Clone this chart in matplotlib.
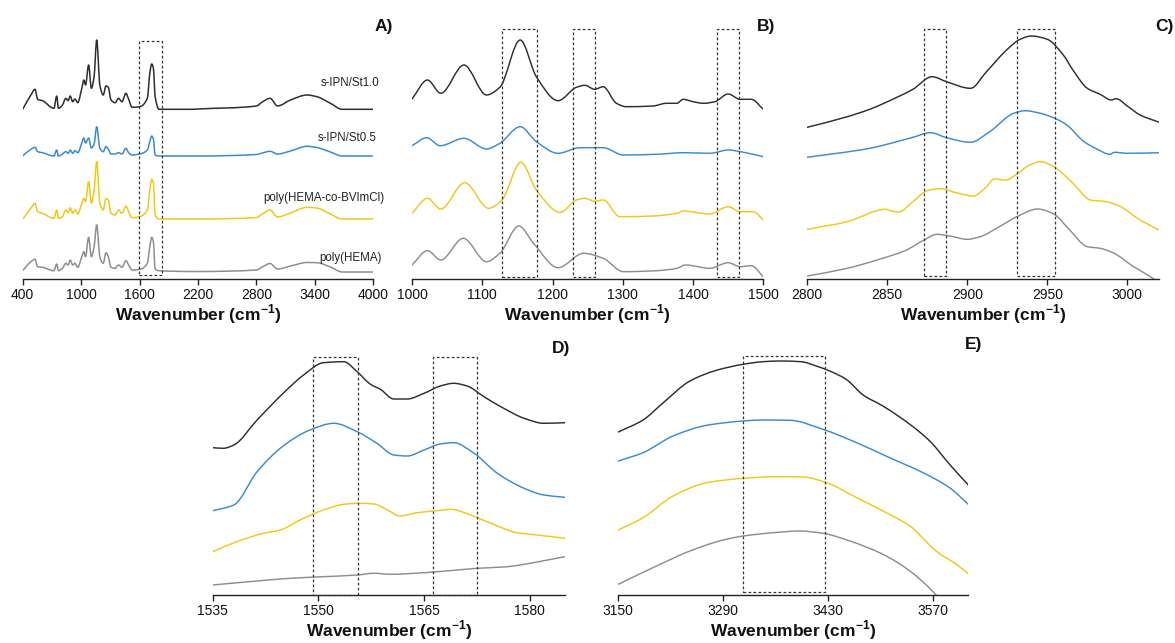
import matplotlib
matplotlib.use('Agg')
import numpy as np
import matplotlib.pyplot as plt
from matplotlib.patches import Rectangle, PathPatch
from matplotlib.path import Path

plt.rcParams['font.family'] = ['Liberation Sans', 'DejaVu Sans']
plt.rcParams['mathtext.fontset'] = 'custom'
plt.rcParams['mathtext.rm'] = 'Liberation Sans'
plt.rcParams['mathtext.bf'] = 'Liberation Sans:bold'

# ---------------- data (offset absorbance, a.u.) ----------------
series_names = ['s-IPN/St1.0', 's-IPN/St0.5', 'poly(HEMA-co-BVImCl)', 'poly(HEMA)']
colors = ['#2e2e2e', '#3a8ccb', '#f0c81a', '#8e8e8e']

# Panel A: full spectra 400-4000 cm-1
wn_A = [400, 484, 526, 554, 603, 721, 749, 767, 808, 843, 867, 888, 913, 937, 965,
        1007, 1028, 1045, 1077, 1105, 1133, 1160, 1192, 1227, 1255, 1279, 1307, 1349,
        1384, 1419, 1460, 1488, 1523, 1600, 1680, 1705, 1725, 1742, 1760, 1800,
        2150, 2200, 2800, 2860, 2940, 3016, 3150, 3320, 3420, 3560, 3680, 4000]
A_st10 = [166.7, 181, 186.7, 176.7, 175.3, 167.7, 180, 167.7, 171, 177.7, 175.3, 180, 174.3, 177, 173.3,
          187.7, 196, 191, 211, 187.7, 199.3, 236, 191, 181, 190, 188.7, 176, 173.3,
          177.7, 174.3, 182.7, 176.7, 168.7, 169.3, 177.7, 202.7, 212, 207.7, 179.3, 166.7,
          166.7, 167, 170, 174, 177.7, 170, 176, 181, 179.3, 172.7, 166.7, 166.7]
A_st05 = [120, 126.7, 128.7, 124.3, 123.3, 120, 126, 120, 122, 124.3, 122.7, 126, 122.7, 125.3, 123.3,
          133, 138, 133, 138, 128, 132, 149.3, 127.7, 124.3, 129.3, 126.7, 122, 122,
          123.3, 122, 127.7, 123.3, 121, 122, 126, 134.3, 140, 136.7, 121, 120,
          120, 120, 121.5, 123, 124.7, 122, 125, 129.7, 128.5, 124, 120, 120]
A_copo = [56.7, 67.7, 72.7, 64.3, 62.7, 57.7, 66, 57.7, 59.3, 66, 63.3, 68.3, 62.7, 66, 62,
          72.7, 77.7, 74.3, 94.3, 72.7, 86, 114.3, 72.7, 66, 77.7, 76, 62.7, 61,
          66, 62.7, 70, 64.3, 58.3, 59.3, 66, 86, 96.7, 92.7, 61, 57,
          57, 57, 58.5, 62, 66, 59, 63, 68.7, 68, 62, 57, 57]
A_hema = [5.3, 14.3, 16.7, 9.3, 8.7, 5.3, 12, 5.3, 7.7, 12.7, 11, 16, 11, 12.7, 8.7,
          19.3, 24.3, 19.3, 38.7, 19.3, 29.3, 51, 19.3, 12.7, 23.3, 19.3, 8.7, 7.7,
          11, 8.7, 15.3, 11, 6, 6.7, 12.7, 29.3, 38.7, 34.3, 6.7, 5.3,
          4.5, 4.5, 6, 9, 12.5, 7, 10, 13.5, 13.3, 9, 4, 4]

# Panel B: 1000-1500 cm-1
B_wn_st10 = [1000, 1022, 1041, 1074, 1106, 1125, 1154, 1177, 1208, 1234, 1246, 1260, 1272,
             1291, 1305, 1343, 1362, 1377, 1386, 1400, 1415, 1431, 1450, 1467, 1483, 1500]
B_st10 = [180, 199, 185.7, 214, 184, 191.7, 239, 202.3, 178.3, 191.7, 193.7, 189.7, 192.3,
          175.7, 172.3, 173, 175.7, 175.7, 179.7, 177.3, 175.7, 177.3, 185, 179.7, 179.7, 169.7]
B_wn_st05 = [1000, 1021, 1040, 1074, 1106, 1125, 1154, 1177, 1208, 1239, 1272, 1301, 1348,
             1386, 1424, 1450, 1472, 1500]
B_st05 = [133.3, 141.3, 133.3, 140.7, 130, 135.7, 152.3, 137.3, 125.7, 131.3, 131.3, 124, 124.7,
          126.3, 125.7, 129, 126.7, 122.3]
B_wn_copo = [1000, 1022, 1041, 1075, 1109, 1128, 1155, 1177, 1211, 1234, 1246, 1260, 1272,
             1296, 1343, 1377, 1386, 1424, 1450, 1467, 1486, 1500]
B_copo = [65.7, 80.7, 70, 96.3, 70.7, 79, 116.7, 89, 66.7, 79, 80.7, 77.7, 79,
          62.3, 63, 65.7, 68, 65, 72.3, 67.3, 67.3, 59]
B_wn_hema = [1000, 1022, 1041, 1073, 1106, 1125, 1152, 1173, 1208, 1244, 1272, 1301, 1348,
             1377, 1389, 1424, 1450, 1467, 1483, 1500]
B_hema = [14, 28.3, 19, 40.7, 17.3, 25.7, 53, 35.7, 11.3, 25.7, 20.7, 7.3, 8.3,
          10.7, 14, 10.7, 16.3, 12.3, 13.3, 2.3]

# Panel C: 2800-3020 cm-1
C_wn_st10 = [2800, 2825, 2839, 2856, 2866, 2878, 2887, 2902, 2912, 2925, 2933, 2940, 2950,
             2960, 2966, 2975, 2983, 2990, 2993, 3000, 3008, 3020]
C_st10 = [151.7, 162.3, 169.7, 181.7, 189.7, 202.3, 197.3, 190.7, 207.3, 229.7, 239.7, 243, 239.7,
          224, 209, 190.7, 184.7, 179, 180.3, 173, 164, 156.7]
C_wn_st05 = [2800, 2839, 2856, 2866, 2877, 2887, 2902, 2914, 2929, 2936, 2945, 2956, 2962,
             2973, 2981, 2989, 2992, 3000, 3020]
C_st05 = [121.7, 130.7, 137.3, 141.7, 146.3, 141.3, 136.7, 147.3, 165.7, 168.3, 166, 159.7, 154.3,
          137.3, 130, 124.7, 126.7, 125.7, 126.3]
C_wn_copo = [2800, 2825, 2849, 2852, 2857, 2866, 2875, 2883, 2893, 2904, 2911, 2917, 2924,
             2931, 2939, 2946, 2954, 2966, 2977, 2987, 2995, 3008, 3020]
C_copo = [49.7, 57.3, 69.7, 68.3, 67, 77.3, 88.3, 90.3, 86.3, 83, 90.7, 100, 99,
          105, 114, 117.3, 112.3, 95.7, 79, 77.3, 73, 59, 49]
C_wn_hema = [2800, 2825, 2845, 2861, 2873, 2881, 2889, 2900, 2908, 2920, 2931, 2944, 2954,
             2964, 2975, 2983, 2991, 3004, 3015, 3020]
C_hema = [3, 10.7, 19.7, 28.3, 39, 44.7, 43, 39.7, 42.3, 52.3, 62.3, 70, 65,
          49, 32.3, 30.7, 26.3, 12.3, 1.7, -4]

# Panel D: 1535-1585 cm-1
D_wn_st10 = [1535, 1536.5, 1538, 1541.3, 1545, 1547.9, 1550.7, 1553.6, 1555.5, 1557.4, 1558.8,
             1560.7, 1562.6, 1565, 1567.3, 1569.2, 1571.1, 1573.5, 1576.3, 1579.2, 1582, 1585]
D_st10 = [147.3, 146.7, 150, 175, 201.7, 220, 232.3, 233.3, 223.3, 210.7, 205.7,
          196, 196, 201.7, 209, 211.7, 209, 198.3, 186.7, 176.7, 171.7, 172.3]
D_wn_st05 = [1535, 1538, 1541.3, 1545, 1548.8, 1552.2, 1555.5, 1558.3, 1560.7, 1562.6, 1565,
             1567.3, 1569.2, 1572.1, 1575.4, 1579.2, 1582, 1585]
D_st05 = [84.3, 90, 123.3, 149, 165, 171.7, 163.3, 151.7, 140, 139, 145,
          151, 152.3, 141.7, 121.7, 106.7, 100, 97.7]
D_wn_copo = [1535, 1538.4, 1542.2, 1544.6, 1547.4, 1550.7, 1553.6, 1555.5, 1557.9, 1559.8, 1561.6,
             1564, 1566.9, 1568.8, 1571.6, 1574.5, 1578.2, 1581.1, 1585]
D_copo = [43.3, 53.3, 61.7, 65, 75, 85, 90.7, 91.7, 91, 85, 79,
          82.3, 84.3, 85.7, 80, 71.7, 62.3, 60, 56.7]
D_wn_hema = [1535, 1541.3, 1546, 1550.7, 1555.5, 1557.9, 1560.2, 1565, 1569.7, 1572.6, 1576.8,
             1579.2, 1582, 1585]
D_hema = [10, 14, 16.7, 18.3, 20, 21.7, 20.7, 22.3, 25, 26.7, 28.3,
          30.7, 34.3, 38.3]

# Panel E: 3150-3617 cm-1
E_wn_st10 = [3150, 3183, 3210, 3245.6, 3281, 3316.7, 3343, 3365.6, 3394, 3414, 3432, 3454,
             3476.7, 3503, 3539, 3565.6, 3592, 3617]
E_st10 = [163, 175, 192.3, 214, 224.7, 230.7, 233.3, 234, 233.3, 229, 224, 215.7,
          200, 189, 170.7, 154, 130.7, 110]
E_wn_st05 = [3150, 3183, 3223, 3268, 3316.7, 3343, 3379, 3423, 3468, 3512, 3556.7, 3592, 3617]
E_st05 = [134, 142.3, 159, 169.7, 174, 175, 174.7, 165.7, 152.3, 137.3, 122.3, 107.3, 90.7]
E_wn_copo = [3150, 3183, 3223, 3268, 3316.7, 3361, 3396.7, 3428, 3468, 3503, 3539, 3574, 3601, 3617]
E_copo = [65, 77.3, 99, 112.3, 116.7, 118.3, 118, 112.3, 97.3, 84, 69, 44, 30.7, 21.3]
E_wn_hema = [3150, 3201, 3245.6, 3290, 3316.7, 3356.7, 3392, 3423, 3459, 3503, 3539, 3570, 3577]
E_hema = [10.7, 29, 44, 55, 59, 62.3, 64, 61.7, 54, 40.7, 24, 3.3, -2.7]

# highlighted regions (cm-1)
A_boxes = [(1590, 1830)]
B_boxes = [(1128, 1178), (1229, 1260), (1434, 1465)]
C_boxes = [(2873, 2886.5), (2931, 2954.6)]
D_boxes = [(1549.3, 1555.6), (1566.2, 1572.5)]
E_boxes = [(3317, 3425.6)]

A_ticks = [400, 1000, 1600, 2200, 2800, 3400, 4000]
B_ticks = [1000, 1100, 1200, 1300, 1400, 1500]
C_ticks = [2800, 2850, 2900, 2950, 3000]
D_ticks = [1535, 1550, 1565, 1580]
E_ticks = [3150, 3290, 3430, 3570]

# ---------------- figure ----------------
W, H = 1175, 643
fig = plt.figure(figsize=(W / 100, H / 100), dpi=100)


def make_ax(left_px, right_px, bottom_px, height_px):
    return fig.add_axes([left_px / W, 1 - bottom_px / H, (right_px - left_px) / W, height_px / H])


def style(ax, xlim, ylim, ticks):
    ax.set_xlim(*xlim)
    ax.set_ylim(*ylim)
    for s in ['top', 'left', 'right']:
        ax.spines[s].set_visible(False)
    ax.spines['bottom'].set_color('#222222')
    ax.spines['bottom'].set_linewidth(1.0)
    ax.set_yticks([])
    ax.set_xticks(ticks)
    ax.set_xticklabels([str(t) for t in ticks])
    ax.tick_params(axis='x', direction='out', length=4, width=1.0, color='#222222',
                   labelsize=10, pad=2.5, labelcolor='#111111')
    ax.set_xlabel('Wavenumber (cm$^{\\mathbf{-1}}$)', fontsize=12.5, fontweight='bold',
                  color='#111111', labelpad=0)
    ax.patch.set_alpha(0)


def boxes(ax, spans, y0, y1):
    for a, b in spans:
        ax.add_patch(Rectangle((a, y0), b - a, y1 - y0, fill=False, ec='#333333',
                               lw=0.9, ls=(0, (2.2, 1.8)), clip_on=False, zorder=5))


def smooth_path(x, y):
    # monotone cubic Hermite (Fritsch-Carlson) rendering of the polyline as Bezier segments
    x = np.asarray(x, float)
    y = np.asarray(y, float)
    h = np.diff(x)
    d = np.diff(y) / h
    n = len(x)
    m = np.zeros(n)
    m[0], m[-1] = d[0], d[-1]
    for i in range(1, n - 1):
        if d[i - 1] * d[i] <= 0:
            m[i] = 0.0
        else:
            w1 = 2 * h[i] + h[i - 1]
            w2 = h[i] + 2 * h[i - 1]
            m[i] = (w1 + w2) / (w1 / d[i - 1] + w2 / d[i])
    verts = [(x[0], y[0])]
    codes = [Path.MOVETO]
    for i in range(n - 1):
        verts += [(x[i] + h[i] / 3, y[i] + m[i] * h[i] / 3),
                  (x[i + 1] - h[i] / 3, y[i + 1] - m[i + 1] * h[i] / 3),
                  (x[i + 1], y[i + 1])]
        codes += [Path.CURVE4] * 3
    return Path(verts, codes)


def plot_set(ax, sets, lw=1.05):
    for (x, y), c in zip(sets, colors):
        ax.add_patch(PathPatch(smooth_path(x, y), fill=False, ec=c, lw=lw,
                               joinstyle='round', capstyle='round'))


axA = make_ax(22.7, 373.3, 279, 252)
axB = make_ax(412, 763.3, 279, 252)
axC = make_ax(807.3, 1159.3, 279, 252)
axD = make_ax(212.7, 565, 595, 245)
axE = make_ax(618.3, 968.3, 595, 245)

plot_set(axA, [(wn_A, A_st10), (wn_A, A_st05), (wn_A, A_copo), (wn_A, A_hema)], lw=1.1)
style(axA, (400, 4000), (-3, 249), A_ticks)
boxes(axA, A_boxes, 1, 235)

plot_set(axB, [(B_wn_st10, B_st10), (B_wn_st05, B_st05), (B_wn_copo, B_copo), (B_wn_hema, B_hema)])
style(axB, (1000, 1500), (0, 252), B_ticks)
boxes(axB, B_boxes, 2.3, 250)

plot_set(axC, [(C_wn_st10, C_st10), (C_wn_st05, C_st05), (C_wn_copo, C_copo), (C_wn_hema, C_hema)])
style(axC, (2800, 3020), (0, 252), C_ticks)
boxes(axC, C_boxes, 3, 249.7)

plot_set(axD, [(D_wn_st10, D_st10), (D_wn_st05, D_st05), (D_wn_copo, D_copo), (D_wn_hema, D_hema)])
style(axD, (1535, 1585), (0, 245), D_ticks)
boxes(axD, D_boxes, 0.3, 238.3)

plot_set(axE, [(E_wn_st10, E_st10), (E_wn_st05, E_st05), (E_wn_copo, E_copo), (E_wn_hema, E_hema)])
style(axE, (3150, 3617), (0, 245), E_ticks)
boxes(axE, E_boxes, 3.3, 239.3)

# series labels in panel A
label_pos = [(3765, 193), (3730, 138), (3489, 78.5), (3761, 18.5)]
for name, (x, y) in zip(series_names, label_pos):
    axA.text(x, y, name, fontsize=8.3, ha='center', va='center', color='#222222')

# panel letters
for txt, xp, yp in [('A)', 375, 26), ('B)', 757, 26), ('C)', 1155, 26),
                    ('D)', 552, 348), ('E)', 965, 344)]:
    fig.text(xp / W, 1 - yp / H, txt, fontsize=12.5, fontweight='bold', ha='left',
             va='center', color='#111111')

fig.savefig('out.png', dpi=100, facecolor='white')
